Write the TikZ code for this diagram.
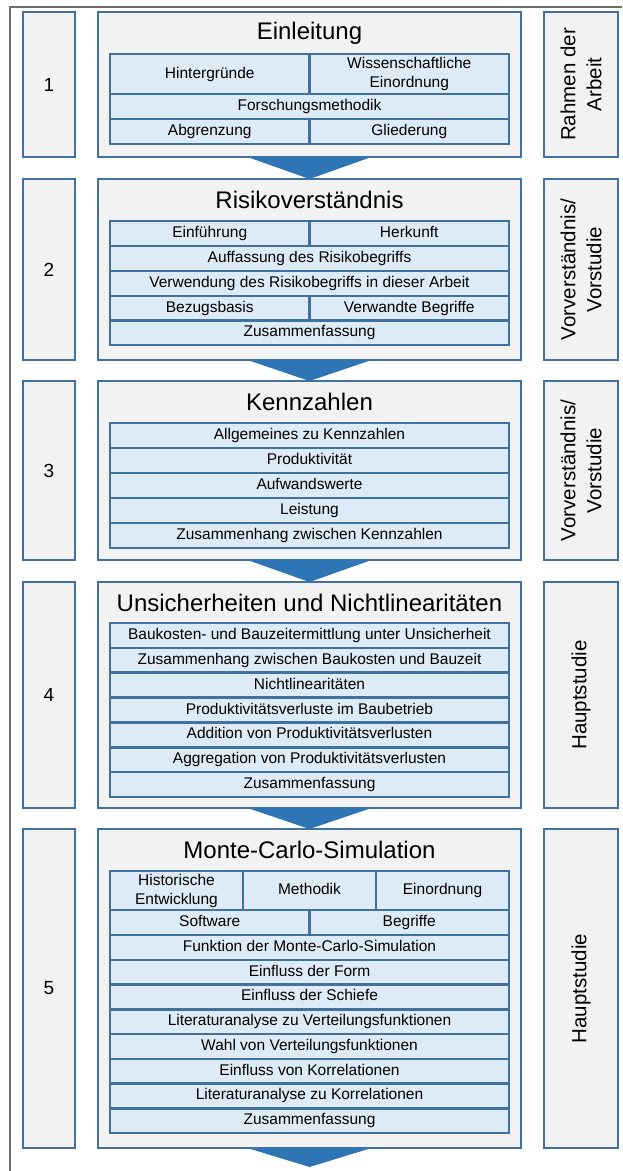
\documentclass[tikz,border=0pt]{standalone}
\usepackage{fontspec}
\setmainfont{Liberation Sans}
\usetikzlibrary{calc}
\definecolor{bordc}{RGB}{65,113,156}
\definecolor{boxfill}{RGB}{242,242,242}
\definecolor{cellfill}{RGB}{221,235,247}
\definecolor{arrowc}{RGB}{46,117,182}
\definecolor{framec}{RGB}{110,110,110}
\tikzset{
  boxbase/.style={draw=bordc, line width=2.6pt, fill=boxfill, inner sep=0pt, outer sep=0pt, anchor=north west},
  cellbase/.style={draw=bordc, line width=2.5pt, fill=cellfill, inner sep=0pt, outer sep=0pt, anchor=north west, align=center, font=\fontsize{15.5}{19}\selectfont},
  cellbox/.style={cellbase, text height=11.5pt, text depth=3.5pt},
  titletext/.style={font=\fontsize{24}{28}\selectfont, inner sep=0pt},
  numtext/.style={font=\fontsize{19}{22}\selectfont},
  sidetext/.style={font=\fontsize{20.5}{26}\selectfont, rotate=90, align=center, inner sep=0pt},
  flowarrow/.style={fill=arrowc},
  framel/.style={draw=framec, line width=2pt}
}
\newcommand{\mkcell}[7][cellbox]{\node[#1, minimum width=#5pt, minimum height=#6pt] (#2) at ({#3},{#4}) {#7};}
\begin{document}
\begin{tikzpicture}[x=1pt,y=-1pt]
\useasboundingbox (0,0) rectangle (622,1171);
% frame
\coordinate (ftr) at (622,7);
\coordinate (ftl) at (10,7);
\coordinate (fbl) at (10,1171);
\draw[framel] (ftr) -- (ftl) -- (fbl);

% ---------- Section 1
\mkcell[boxbase,numtext]{n1}{23}{12}{52}{145}{1}
\mkcell[boxbase]{m1}{98}{12}{423}{145}{}
\mkcell[boxbase]{r1}{544}{12}{74}{145}{}
\node[sidetext] (s1) at (r1.center) {Rahmen der\\Arbeit};
\node[titletext] (t1) at (309.5,33) {Einleitung};
\mkcell{c1a}{110}{54}{199.5}{40}{Hintergründe}
\mkcell[cellbase]{c1b}{309.5}{54}{199.5}{40}{Wissenschaftliche\\Einordnung}
\mkcell{c1c}{110}{94}{399}{25}{Forschungsmethodik}
\mkcell{c1d}{110}{119}{199.5}{25}{Abgrenzung}
\mkcell{c1e}{309.5}{119}{199.5}{25}{Gliederung}

% ---------- Section 2
\mkcell[boxbase,numtext]{n2}{23}{179}{52}{181}{2}
\mkcell[boxbase]{m2}{98}{179}{423}{181}{}
\mkcell[boxbase]{r2}{544}{179}{74}{181}{}
\node[sidetext] (s2) at (r2.center) {Vorverständnis/\\Vorstudie};
\node[titletext] (t2) at (309.5,200) {Risikoverständnis};
\mkcell{c2a}{110}{221}{199.5}{25}{Einführung}
\mkcell{c2b}{309.5}{221}{199.5}{25}{Herkunft}
\mkcell{c2c}{110}{246}{399}{25}{Auffassung des Risikobegriffs}
\mkcell{c2d}{110}{271}{399}{25}{Verwendung des Risikobegriffs in dieser Arbeit}
\mkcell{c2e}{110}{296}{199.5}{24.5}{Bezugsbasis}
\mkcell{c2f}{309.5}{296}{199.5}{24.5}{Verwandte Begriffe}
\mkcell{c2g}{110}{320.5}{399}{24.5}{Zusammenfassung}

% ---------- Section 3
\mkcell[boxbase,numtext]{n3}{23}{381}{52}{179}{3}
\mkcell[boxbase]{m3}{98}{381}{423}{179}{}
\mkcell[boxbase]{r3}{544}{381}{74}{179}{}
\node[sidetext] (s3) at (r3.center) {Vorverständnis/\\Vorstudie};
\node[titletext] (t3) at (309.5,402) {Kennzahlen};
\foreach \txt [count=\i] in {Allgemeines zu Kennzahlen, Produktivität, Aufwandswerte, Leistung, Zusammenhang zwischen Kennzahlen}
  {\mkcell{c3-\i}{110}{423+(\i-1)*25}{399}{25}{\txt}}

% ---------- Section 4
\mkcell[boxbase,numtext]{n4}{23}{582}{52}{226}{4}
\mkcell[boxbase]{m4}{98}{582}{423}{226}{}
\mkcell[boxbase]{r4}{544}{582}{74}{226}{}
\node[sidetext] (s4) at (r4.center) {Hauptstudie};
\node[titletext] (t4) at (309.5,602.5) {Unsicherheiten und Nichtlinearitäten};
\foreach \txt [count=\i] in {Baukosten- und Bauzeitermittlung unter Unsicherheit, Zusammenhang zwischen Baukosten und Bauzeit, Nichtlinearitäten, Produktivitätsverluste im Baubetrieb, Addition von Produktivitätsverlusten, Aggregation von Produktivitätsverlusten, Zusammenfassung}
  {\mkcell{c4-\i}{110}{623+(\i-1)*24.86}{399}{24.86}{\txt}}

% ---------- Section 5
\mkcell[boxbase,numtext]{n5}{23}{829}{52}{319}{5}
\mkcell[boxbase]{m5}{98}{829}{423}{319}{}
\mkcell[boxbase]{r5}{544}{829}{74}{319}{}
\node[sidetext] (s5) at (r5.center) {Hauptstudie};
\node[titletext] (t5) at (309.5,850) {Monte-Carlo-Simulation};
\mkcell[cellbase]{c5a}{110}{871}{133}{39}{Historische\\Entwicklung}
\mkcell{c5b}{243}{871}{133}{39}{Methodik}
\mkcell{c5c}{376}{871}{133}{39}{Einordnung}
\mkcell{c5d}{110}{910}{199.5}{25}{Software}
\mkcell{c5e}{309.5}{910}{199.5}{25}{Begriffe}
\foreach \txt [count=\i] in {Funktion der Monte-Carlo-Simulation, Einfluss der Form, Einfluss der Schiefe, Literaturanalyse zu Verteilungsfunktionen, Wahl von Verteilungsfunktionen, Einfluss von Korrelationen, Literaturanalyse zu Korrelationen, Zusammenfassung}
  {\mkcell{c5-\i}{110}{935+(\i-1)*24.75}{399}{24.75}{\txt}}

% ---------- Arrows
\fill[flowarrow] ($(m1.south)+(-62,0)$) -- ($(m1.south)+(62,0)$) -- (m2.north) -- cycle;
\fill[flowarrow] ($(m2.south)+(-62,0)$) -- ($(m2.south)+(62,0)$) -- (m3.north) -- cycle;
\fill[flowarrow] ($(m3.south)+(-62,0)$) -- ($(m3.south)+(62,0)$) -- (m4.north) -- cycle;
\fill[flowarrow] ($(m4.south)+(-62,0)$) -- ($(m4.south)+(62,0)$) -- (m5.north) -- cycle;
\coordinate (endtip) at (309.5,1167);
\fill[flowarrow] ($(m5.south)+(-62,0)$) -- ($(m5.south)+(62,0)$) -- (endtip) -- cycle;
\end{tikzpicture}
\end{document}
